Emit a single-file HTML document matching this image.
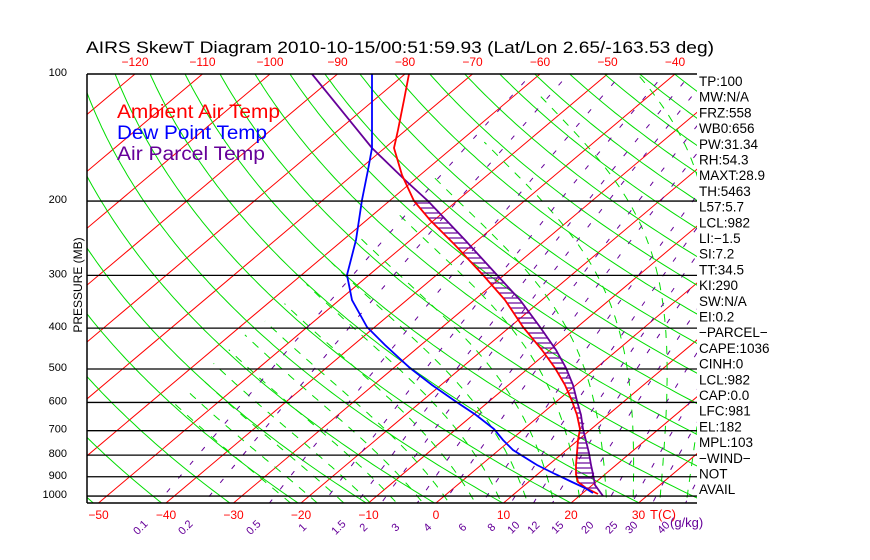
<!DOCTYPE html>
<html><head><meta charset="utf-8"><style>
html,body{margin:0;padding:0;background:#fff;}
svg{display:block;font-family:"Liberation Sans",sans-serif;}
</style></head><body>
<svg id="s" width="870" height="560" xmlns="http://www.w3.org/2000/svg">
<defs><clipPath id="c"><rect x="87" y="74" width="610" height="429"/></clipPath></defs>
<g id="grid" clip-path="url(#c)"></g>
<g id="prof" clip-path="url(#c)"></g>
<g id="axes"></g>
<text x="86" y="53" font-size="17" fill="#000" textLength="628" lengthAdjust="spacingAndGlyphs">AIRS SkewT Diagram 2010-10-15/00:51:59.93 (Lat/Lon 2.65/-163.53 deg)</text>
<text x="117" y="118" font-size="19" fill="#f00" textLength="163" lengthAdjust="spacingAndGlyphs">Ambient Air Temp</text>
<text x="117" y="139" font-size="19" fill="#00f" textLength="150" lengthAdjust="spacingAndGlyphs">Dew Point Temp</text>
<text x="117" y="160" font-size="19" fill="#609" textLength="148" lengthAdjust="spacingAndGlyphs">Air Parcel Temp</text>
<text transform="translate(82,285) rotate(-90)" font-size="12" text-anchor="middle">PRESSURE (MB)</text>
</svg>
<script>
var NS="http://www.w3.org/2000/svg";
function el(p,t,a,txt){var e=document.createElementNS(NS,t);for(var k in a)e.setAttribute(k,a[k]);if(txt!==undefined)e.textContent=txt;p.appendChild(e);return e;}
var G=document.getElementById('grid'),P=document.getElementById('prof'),A=document.getElementById('axes');
var K=183.3,s=509/429;
function Y(p){return 74+K*Math.log(p/100);}
function X(T,p){return 436+6.75*T+s*(503-Y(p));}
function pts(f){var a=[];for(var p=90;p<=1100;p*=1.02){var v=f(p);if(v!==null)a.push(X(v,p).toFixed(1)+","+Y(p).toFixed(1));}return a.join(" ");}
for(var T=-170;T<=60;T+=10){el(G,'line',{x1:X(T,1100),y1:Y(1100),x2:X(T,90),y2:Y(90),stroke:'#f00','stroke-width':1});}
for(var th=200;th<=520;th+=10){(function(th){el(G,'polyline',{points:pts(function(p){return th*Math.pow(p/1000,0.2857)-273.15;}),fill:'none',stroke:'#0d0','stroke-width':1});})(th);}
function es(Tc){return 6.112*Math.exp(17.67*Tc/(Tc+243.5));}
function step(T,p,dp){var Tc=T-273.15,rs=0.622*es(Tc)/(p-es(Tc));var Lv=2.5e6,Rd=287,cp=1005;
  var dTdp=(Rd*T+Lv*rs)/(p*(cp+Lv*Lv*rs*0.622/(Rd*T*T)));return T+dTdp*dp;}
for(var t0=-24;t0<=44;t0+=4){
 var up=[],Tc=t0+273.15,p=1000;
 while(p>90&&Tc-273.15>-58){up.push([Tc,p]);Tc=step(Tc,p,-5);p-=5;}
 var dn=[];Tc=t0+273.15;p=1000;
 while(p<1100){Tc=step(Tc,p,5);p+=5;dn.push([Tc,p]);}
 var all=dn.reverse().concat(up).map(function(q){return X(q[0]-273.15,q[1]).toFixed(1)+","+Y(q[1]).toFixed(1);});
 el(G,'polyline',{points:all.join(" "),fill:'none',stroke:'#0d0','stroke-width':1,'stroke-dasharray':'8,8'});
}
var ws=[0.1,0.2,0.5,1,1.5,2,3,4,6,8,10,12,15,20,25,30,40];
ws.forEach(function(w){el(G,'polyline',{points:pts(function(p){var e=w*p/(622+w);var l=Math.log(e/6.112);return 243.5*l/(17.67-l);}),fill:'none',stroke:'#609','stroke-width':1,'stroke-dasharray':'5,13'});});
[200,300,400,500,600,700,800,900,1000].forEach(function(p){el(A,'line',{x1:87,y1:Y(p),x2:697,y2:Y(p),stroke:'#000','stroke-width':1.3});});
el(A,'line',{x1:87,y1:74,x2:697,y2:74,stroke:'#000','stroke-width':1.5});
el(A,'line',{x1:87,y1:503,x2:697,y2:503,stroke:'#000','stroke-width':1.5});
el(A,'line',{x1:87,y1:74,x2:87,y2:503,stroke:'#000','stroke-width':1.5});
[100,200,300,400,500,600,700,800,900,1000].forEach(function(p){el(A,'text',{x:67,y:Y(p)+2,'font-size':11,'text-anchor':'end'},String(p));});
var tp=[[409,74],[404,100],[398,130],[394,148],[402,175],[414,201],[430,220],[455,245],[483,275],[505,300],[523,327],[542,350],[555,368],[565,385],[572,401],[577,415],[580,429],[578,440],[577,453],[576,465],[576,474],[578,482],[586,488],[598,494]];
var pp=[[312,74],[372,148],[405,180],[428,201],[465,240],[497,275],[520,300],[540,327],[556,350],[566,368],[573,385],[577,401],[581,415],[583,429],[586,441],[589,453],[591,465],[593,474],[595,485],[603,496]];
var dp=[[372,74],[372,148],[368,170],[362,200],[356,240],[347,275],[352,300],[367,327],[385,345],[410,368],[432,385],[455,401],[476,415],[494,429],[503,440],[513,450],[537,465],[555,474],[572,482],[585,488],[593,493]];
function interp(a,y){for(var i=0;i<a.length-1;i++){if(y>=a[i][1]&&y<=a[i+1][1]){var t=(y-a[i][1])/(a[i+1][1]-a[i][1]);return a[i][0]+t*(a[i+1][0]-a[i][0]);}}return null;}
for(var y=203;y<=492;y+=5){var a=interp(tp,y),b=interp(pp,y);if(a!==null&&b!==null&&b>a+1)el(P,'line',{x1:a,y1:y,x2:b,y2:y,stroke:'#609','stroke-width':1.2});}
function pl(a,c){el(P,'polyline',{points:a.map(function(q){return q.join(',');}).join(' '),fill:'none',stroke:c,'stroke-width':1.8});}
pl(pp,'#609');pl(tp,'#f00');pl(dp,'#00f');
[-120,-110,-100,-90,-80,-70,-60,-50,-40].forEach(function(T){el(A,'text',{x:X(T,100),y:66,'font-size':12,fill:'#f00','text-anchor':'middle'},String(T).replace('-','\u2212'));});
[-50,-40,-30,-20,-10,0,10,20,30].forEach(function(T){el(A,'text',{x:436+6.75*T,y:519,'font-size':12,fill:'#f00','text-anchor':'middle'},String(T).replace('-','\u2212'));});
el(A,'text',{x:650,y:519,'font-size':13,fill:'#f00'},'T(C)');
var ql=[[0.1,143],[0.2,188],[0.5,256],[1,305],[1.5,341],[2,366],[3,398],[4,430],[6,465],[8,494],[10,516],[12,536],[15,560],[20,590],[25,614],[30,634],[40,666]];
ql.forEach(function(q){el(A,'text',{transform:'translate('+q[1]+',530) rotate(-45)','font-size':11,fill:'#609','text-anchor':'middle'},String(q[0]));});
el(A,'text',{x:670,y:527,'font-size':13,fill:'#609'},'(g/kg)');
var rl=["TP:100","MW:N/A","FRZ:558","WB0:656","PW:31.34","RH:54.3","MAXT:28.9","TH:5463","L57:5.7","LCL:982","LI:\u22121.5","SI:7.2","TT:34.5","KI:290","SW:N/A","EI:0.2","\u2212PARCEL\u2212","CAPE:1036","CINH:0","LCL:982","CAP:0.0","LFC:981","EL:182","MPL:103","\u2212WIND\u2212"," NOT","AVAIL"];
rl.forEach(function(t,i){el(A,'text',{x:699,y:86+i*15.7,'font-size':13.5,fill:'#000','xml:space':'preserve'},t);});
</script>
</body></html>
